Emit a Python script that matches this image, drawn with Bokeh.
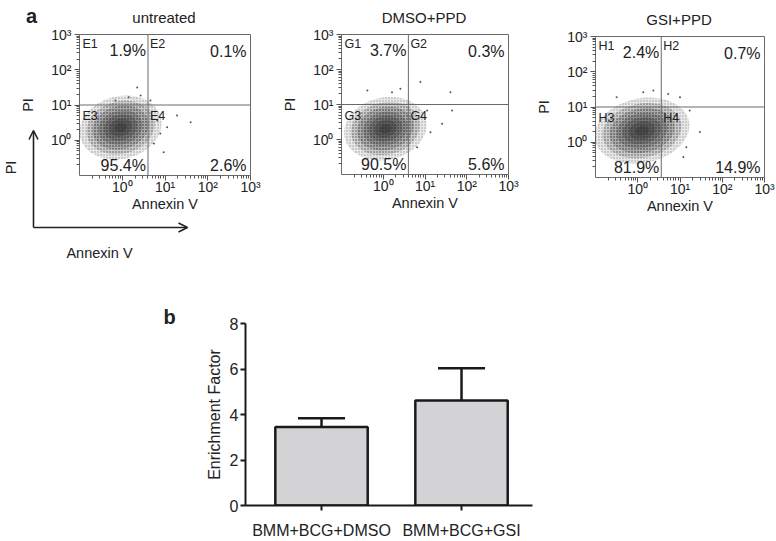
import math
from bokeh.plotting import figure
from bokeh.models import Range1d, FixedTicker, Label, Arrow, OpenHead, Span, GridBox
from bokeh.layouts import row
from bokeh.embed import file_html
from bokeh.resources import INLINE

FONT = "Liberation Sans"
INK = "#222222"
W, H = 776, 541

# ---------------- data : panel a (flow cytometry) ----------------
conditions = ["untreated", "DMSO+PPD", "GSI+PPD"]
gate_prefix = ["E", "G", "H"]
pct_upper_left = [1.9, 3.7, 2.4]
pct_upper_right = [0.1, 0.3, 0.7]
pct_lower_left = [95.4, 90.5, 81.9]
pct_lower_right = [2.6, 5.6, 14.9]
annexin_gate = [4.0, 4.0, 3.6]      # linear units
pi_gate = [10.0, 10.0, 10.0]        # linear units

# main event cloud, log10 units (centre, spread, tilt)
cloud_cx = [-0.04, 0.05, 0.10]
cloud_cy = [0.36, 0.31, 0.33]
cloud_sx = [0.36, 0.37, 0.42]
cloud_sy = [0.33, 0.33, 0.34]
cloud_tilt = [0.25, 0.22, 0.20]

# sparse events outside the main cloud (log10 Annexin V, log10 PI)
sparse_x = [
    [1.28, 1.60, 1.05, 0.89, 0.74, 0.35, 0.15, 0.43, 0.66, -0.16, 0.82, 0.97],
    [0.89, 1.61, 1.65, 1.41, -0.38, 0.41, 1.05, 1.13, 0.81, 0.21],
    [1.47, 1.00, 0.13, 1.08, 0.72, 1.23, 0.37, 0.92, 1.15, -0.50],
]
sparse_y = [
    [0.70, 0.51, 0.37, 0.19, -0.09, 1.50, 1.22, 1.27, 1.13, 1.13, 0.56, -0.34],
    [1.64, 1.35, 0.83, 0.45, 1.40, 1.45, 0.83, 0.21, -0.22, 1.35],
    [0.29, 1.28, 1.42, -0.42, 1.37, 0.90, 1.47, 0.76, -0.14, 1.28],
]

decade_ticks = [0, 1, 2, 3]
decade_labels = ["10\u2070", "10\u00b9", "10\u00b2", "10\u00b3"]

# ---------------- data : panel b (bar chart) ----------------
groups = ["BMM+BCG+DMSO", "BMM+BCG+GSI"]
enrichment = [3.45, 4.62]
enrichment_err = [0.38, 1.41]
bar_ticks = [0, 2, 4, 6, 8]

# ---------------- layout (page pixels: left, right, top, bottom of each frame) ----------------
frames = [(79, 250, 34, 175), (341, 508, 34, 174), (595, 764, 36, 177)]
bar_frame = (245, 532, 323, 508)

layer_scale = [2.7, 2.25, 1.85, 1.45, 1.1, 0.75, 0.4]
layer_alpha = [0.10, 0.14, 0.18, 0.22, 0.25, 0.27, 0.27]
minor_log = [d + math.log10(k) for d in range(-1, 3) for k in range(2, 10)]


def blank_fig(frame, xr, yr, **kw):
    l, r, t, b = frame
    p = figure(width=W, height=H, x_range=xr, y_range=yr, output_backend="svg",
               toolbar_location=None, min_border_left=l, min_border_right=W - r,
               min_border_top=t, min_border_bottom=H - b, **kw)
    p.border_fill_color = None
    p.background_fill_color = None
    p.xgrid.visible = False
    p.ygrid.visible = False
    return p


def lab(p, x, y, text, size, align="left", base="middle", bold=False, angle=0):
    p.add_layout(Label(x=x, y=y, text=text, text_font=FONT, text_font_size=size,
                       text_align=align, text_baseline=base, text_color=INK,
                       text_font_style="bold" if bold else "normal", angle=angle))


def flow_panel(i):
    l, r, t, b = frames[i]
    sx = (r - l) / 4.0
    sy = (b - t) / 4.0
    p = blank_fig(frames[i], Range1d(-1, 3), Range1d(-1, 3))
    p.outline_line_color = "#6a6a6a"
    p.outline_line_width = 1
    for ax in (p.xaxis[0], p.yaxis[0]):
        ax.ticker = FixedTicker(ticks=decade_ticks, minor_ticks=minor_log)
        ax.major_label_overrides = dict(zip(decade_ticks, decade_labels))
        ax.axis_line_color = None
        ax.major_tick_in = 0
        ax.major_tick_out = 5
        ax.minor_tick_in = 0
        ax.minor_tick_out = 3
        ax.major_tick_line_color = "#555555"
        ax.minor_tick_line_color = "#555555"
        ax.major_label_text_font = FONT
        ax.major_label_text_font_size = "14px"
        ax.major_label_text_color = INK
        ax.axis_label_text_font = FONT
        ax.axis_label_text_font_size = "14.5px"
        ax.axis_label_text_font_style = "normal"
        ax.axis_label_text_color = INK
    p.xaxis.axis_label = "Annexin V"
    p.yaxis.axis_label = "PI"
    p.xaxis.major_label_standoff = -2
    p.xaxis.axis_label_standoff = -2
    p.yaxis.major_label_standoff = 3
    p.yaxis.axis_label_standoff = 12

    n = len(layer_scale)
    p.ellipse(x=[cloud_cx[i]] * n, y=[cloud_cy[i]] * n,
              width=[2 * k * cloud_sx[i] for k in layer_scale],
              height=[2 * k * cloud_sy[i] for k in layer_scale],
              angle=cloud_tilt[i], fill_color="#1e1e1e", fill_alpha=layer_alpha,
              line_color=None)
    p.ellipse(x=[cloud_cx[i]] * 3, y=[cloud_cy[i]] * 3,
              width=[2 * k * cloud_sx[i] for k in layer_scale[:3]],
              height=[2 * k * cloud_sy[i] for k in layer_scale[:3]],
              angle=cloud_tilt[i], fill_alpha=0, line_color=None,
              hatch_pattern=".", hatch_color="#2a2a2a", hatch_alpha=0.4, hatch_scale=3)
    p.scatter(x=sparse_x[i], y=sparse_y[i], size=2, color="#555555", line_color=None)

    gx = math.log10(annexin_gate[i])
    gy = math.log10(pi_gate[i])
    p.add_layout(Span(location=gx, dimension="height", line_color="#6a6a6a", line_width=1))
    p.add_layout(Span(location=gy, dimension="width", line_color="#6a6a6a", line_width=1))

    pre = gate_prefix[i]
    lab(p, -1 + 3 / sx, 3 - 9 / sy, pre + "1", "12.5px")
    lab(p, gx - 2 / sx, 3 - 16 / sy, f"{pct_upper_left[i]}%", "16px", align="right")
    lab(p, gx + 2 / sx, 3 - 9 / sy, pre + "2", "12.5px")
    lab(p, 3 - 4 / sx, 3 - 17 / sy, f"{pct_upper_right[i]}%", "16px", align="right")
    lab(p, -1 + 3 / sx, gy - 11 / sy, pre + "3", "12.5px")
    lab(p, gx + 2 / sx, gy - 11 / sy, pre + "4", "12.5px")
    lab(p, gx - 2 / sx, -1 + 10 / sy, f"{pct_lower_left[i]}%", "16px", align="right")
    lab(p, 3 - 4 / sx, -1 + 10 / sy, f"{pct_lower_right[i]}%", "16px", align="right")
    return p


panels = [flow_panel(i) for i in range(3)]

# ---------------- panel b ----------------
bx = [1, 2]
pb = blank_fig(bar_frame, Range1d(0.457, 2.507), Range1d(0, 8))
pb.outline_line_color = None
pb.vbar(x=bx, top=enrichment, width=0.66, fill_color="#d3d3d6",
        line_color="#1a1a1a", line_width=2.5)
tops = [v + e for v, e in zip(enrichment, enrichment_err)]
pb.segment(x0=bx, y0=enrichment, x1=bx, y1=tops, line_color="#1a1a1a", line_width=2.5)
pb.segment(x0=[x - 0.168 for x in bx], y0=tops, x1=[x + 0.168 for x in bx], y1=tops,
           line_color="#1a1a1a", line_width=2.5)
pb.yaxis.ticker = FixedTicker(ticks=bar_ticks, minor_ticks=[])
pb.xaxis.ticker = FixedTicker(ticks=bx, minor_ticks=[])
pb.xaxis.major_label_overrides = dict(zip(bx, groups))
for ax in (pb.xaxis[0], pb.yaxis[0]):
    ax.axis_line_color = "#1a1a1a"
    ax.axis_line_width = 2
    ax.major_tick_line_color = "#1a1a1a"
    ax.major_tick_line_width = 2
    ax.major_tick_in = 0
    ax.major_tick_out = 5
    ax.minor_tick_line_color = None
    ax.major_label_text_font = FONT
    ax.major_label_text_font_size = "16px"
    ax.major_label_text_color = INK
    ax.axis_label_text_font = FONT
    ax.axis_label_text_font_size = "16px"
    ax.axis_label_text_font_style = "normal"
    ax.axis_label_text_color = INK
pb.yaxis.axis_label = "Enrichment Factor"
pb.yaxis.major_label_standoff = 2
pb.yaxis.axis_label_standoff = 4
pb.xaxis.major_label_standoff = 11

# ---------------- page-level annotations (titles, panel letters, orientation key) ----------------
key = blank_fig((0, W, 0, H), Range1d(0, W), Range1d(H, 0), x_axis_type=None, y_axis_type=None)
key.outline_line_color = None
for i, (l, r, t, b) in enumerate(frames):
    lab(key, (l + r) / 2.0 - 1, t - 17, conditions[i], "15px", align="center")
lab(key, 31, 15, "a", "20px", align="center", bold=True)
lab(key, 169, 316, "b", "20px", align="center", bold=True)
head = dict(size=9, line_width=1.6, line_color=INK)
key.add_layout(Arrow(end=OpenHead(**head), x_start=33, y_start=227, x_end=33, y_end=130,
                     line_width=1.6, line_color=INK))
key.add_layout(Arrow(end=OpenHead(**head), x_start=33, y_start=227, x_end=187, y_end=227,
                     line_width=1.6, line_color=INK))
lab(key, 10, 167, "PI", "14.5px", align="center", angle=math.pi / 2)
lab(key, 99, 252, "Annexin V", "14.5px", align="center")

# every figure covers the whole page; stacking them in one grid cell overlays them
layers = [key] + panels + [pb]
layout = GridBox(children=[(row(f), 0, 0) for f in layers])

with open("out.html", "w") as f:
    f.write(file_html(layout, INLINE))
